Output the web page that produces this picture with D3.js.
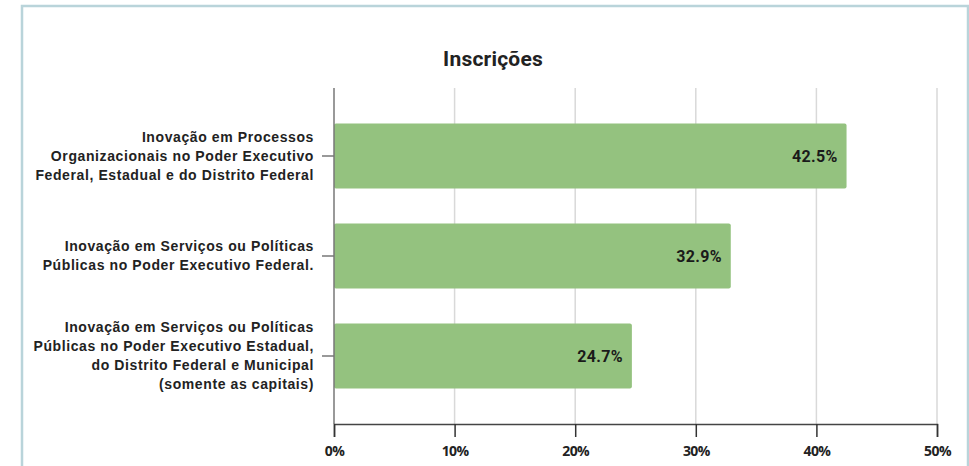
<!DOCTYPE html>
<html>
<head>
<meta charset="utf-8">
<script src="https://cdn.jsdelivr.net/npm/d3@7"></script>
<style>
  body { margin: 0; background: #fff; }
</style>
</head>
<body>
<svg id="chart" width="969" height="466"></svg>
<script>
const categories = [
  ['Inovação em Processos', 'Organizacionais no Poder Executivo', 'Federal, Estadual e do Distrito Federal'],
  ['Inovação em Serviços ou Políticas', 'Públicas no Poder Executivo Federal.'],
  ['Inovação em Serviços ou Políticas', 'Públicas no Poder Executivo Estadual,', 'do Distrito Federal e Municipal', '(somente as capitais)']
];
const values = [42.5, 32.9, 24.7];
const valueLabels = ['42.5%', '32.9%', '24.7%'];
const ticks = [0, 10, 20, 30, 40, 50];

const svg = d3.select('#chart');

// moldura
svg.append('rect')
  .attr('x', 22).attr('y', 6)
  .attr('width', 946).attr('height', 470)
  .attr('fill', '#fff')
  .attr('stroke', '#b9d4da')
  .attr('stroke-width', 2.5);

const x = d3.scaleLinear().domain([0, 50]).range([334, 937]);
const y = d3.scaleBand().domain(d3.range(categories.length)).range([88, 424])
  .paddingInner(0.35).paddingOuter(0.355);

// título
svg.append('text')
  .text('Inscrições')
  .attr('x', 493).attr('y', 66)
  .attr('text-anchor', 'middle')
  .attr('font-family', 'Roboto')
  .attr('font-weight', 700)
  .attr('font-size', '21px')
  .attr('letter-spacing', '0.2px')
  .attr('fill', '#222');

// grade
svg.append('g').selectAll('line')
  .data(ticks.slice(1))
  .join('line')
  .attr('x1', d => x(d)).attr('x2', d => x(d))
  .attr('y1', 88).attr('y2', 424)
  .attr('stroke', '#d9d9d9')
  .attr('stroke-width', 1.5);

// barras
svg.append('g').selectAll('rect')
  .data(values)
  .join('rect')
  .attr('x', x(0))
  .attr('y', (d, i) => y(i))
  .attr('width', d => x(d) - x(0))
  .attr('height', y.bandwidth())
  .attr('rx', 2)
  .attr('fill', '#94c27f');

// rótulos dos valores
svg.append('g').selectAll('text')
  .data(values)
  .join('text')
  .text((d, i) => valueLabels[i])
  .attr('x', d => x(d) - 9)
  .attr('y', (d, i) => y(i) + y.bandwidth() / 2)
  .attr('dy', '0.35em')
  .attr('text-anchor', 'end')
  .attr('font-family', 'Roboto')
  .attr('font-weight', 700)
  .attr('font-size', '16px')
  .attr('letter-spacing', '0.3px')
  .attr('fill', '#1a1a1a');

// eixo y
svg.append('line')
  .attr('x1', x(0)).attr('x2', x(0))
  .attr('y1', 88).attr('y2', 424)
  .attr('stroke', '#777')
  .attr('stroke-width', 1.5);

const yLabels = svg.append('g').selectAll('g')
  .data(categories)
  .join('g')
  .attr('transform', (d, i) => `translate(0,${y(i) + y.bandwidth() / 2})`);

yLabels.append('line')
  .attr('x1', 322).attr('x2', x(0))
  .attr('stroke', '#777')
  .attr('stroke-width', 1.5);

yLabels.each(function (lines) {
  const lh = 19;
  const top = -((lines.length - 1) * lh) / 2;
  d3.select(this).selectAll('text')
    .data(lines)
    .join('text')
    .text(d => d)
    .attr('x', 314)
    .attr('y', (d, j) => top + j * lh)
    .attr('dy', '0.35em')
    .attr('text-anchor', 'end')
    .attr('font-family', 'Liberation Sans, Arial, sans-serif')
    .attr('font-weight', 700)
    .attr('font-size', '14px')
    .attr('letter-spacing', '0.6px')
    .attr('fill', '#222');
});

// eixo x
const xAxis = svg.append('g')
  .attr('transform', 'translate(0,424)')
  .call(d3.axisBottom(x).tickValues(ticks).tickSize(13).tickFormat(d => d + '%'));

xAxis.select('.domain').attr('stroke', '#444').attr('stroke-width', 1.5);
xAxis.selectAll('.tick line').attr('stroke', '#333').attr('stroke-width', 1.5);
xAxis.selectAll('.tick text')
  .attr('y', 22)
  .attr('font-family', 'Open Sans')
  .attr('font-weight', 700)
  .attr('font-size', '14px')
  .attr('letter-spacing', '-0.6px')
  .attr('fill', '#222');
</script>
</body>
</html>
